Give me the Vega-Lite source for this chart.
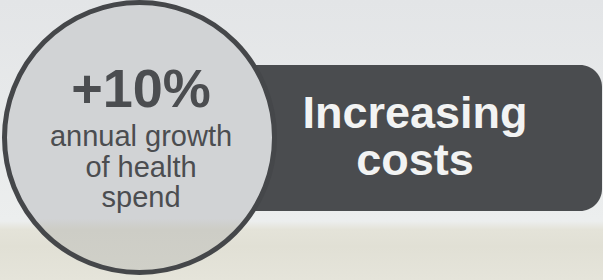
{
  "$schema": "https://vega.github.io/schema/vega-lite/v6.json",
  "width": 603,
  "height": 280,
  "autosize": {"type": "none"},
  "padding": 0,
  "background": "#e6e8e9",
  "config": {"view": {"stroke": null}},
  "layer": [
    {
      "data": {"values": [{"x": 0, "x2": 603, "y": 0, "y2": 280}]},
      "mark": {
        "type": "rect",
        "fill": {
          "gradient": "linear", "x1": 0, "y1": 0, "x2": 0, "y2": 1,
          "stops": [
            {"offset": 0, "color": "#e3e5e7"},
            {"offset": 0.79, "color": "#eceeee"},
            {"offset": 0.82, "color": "#e4e3d9"},
            {"offset": 0.88, "color": "#e1e0d5"},
            {"offset": 1, "color": "#e5e4da"}
          ]
        }
      },
      "encoding": {
        "x": {"field": "x", "type": "quantitative", "scale": {"domain": [0, 603], "nice": false, "zero": false}, "axis": null},
        "x2": {"field": "x2"},
        "y": {"field": "y", "type": "quantitative", "scale": {"domain": [0, 280], "nice": false, "zero": false, "reverse": true}, "axis": null},
        "y2": {"field": "y2"}
      }
    },
    {
      "data": {"values": [{"x": 200, "x2": 602, "y": 65, "y2": 211}]},
      "mark": {"type": "rect", "fill": "#4a4c4f", "cornerRadius": 22},
      "encoding": {
        "x": {"field": "x", "type": "quantitative", "axis": null},
        "x2": {"field": "x2"},
        "y": {"field": "y", "type": "quantitative", "axis": null},
        "y2": {"field": "y2"}
      }
    },
    {
      "data": {"values": [{"x": 139.5, "y": 137.5}]},
      "mark": {
        "type": "point", "shape": "circle", "filled": true, "size": 72900, "opacity": 1,
        "fill": {
          "gradient": "linear", "x1": 0, "y1": 0, "x2": 0, "y2": 1,
          "stops": [
            {"offset": 0, "color": "#d1d3d5"},
            {"offset": 0.8, "color": "#d1d3d5"},
            {"offset": 0.84, "color": "#cdcdc6"},
            {"offset": 1, "color": "#d0d0c8"}
          ]
        },
        "stroke": "#45474a", "strokeWidth": 5, "strokeOpacity": 1
      },
      "encoding": {
        "x": {"field": "x", "type": "quantitative", "axis": null},
        "y": {"field": "y", "type": "quantitative", "axis": null}
      }
    },
    {
      "data": {"values": [{"label": "+10%", "x": 141, "y": 107}]},
      "mark": {"type": "text", "font": "Liberation Sans", "fontWeight": "bold", "fontSize": 54, "color": "#4b4d50", "align": "center", "baseline": "alphabetic"},
      "encoding": {
        "x": {"field": "x", "type": "quantitative", "axis": null},
        "y": {"field": "y", "type": "quantitative", "axis": null},
        "text": {"field": "label"}
      }
    },
    {
      "data": {"values": [
        {"label": "annual growth", "x": 141, "y": 146},
        {"label": "of health", "x": 141, "y": 177},
        {"label": "spend", "x": 141, "y": 207}
      ]},
      "mark": {"type": "text", "font": "Liberation Sans", "fontSize": 29, "color": "#4b4d50", "align": "center", "baseline": "alphabetic"},
      "encoding": {
        "x": {"field": "x", "type": "quantitative", "axis": null},
        "y": {"field": "y", "type": "quantitative", "axis": null},
        "text": {"field": "label"}
      }
    },
    {
      "data": {"values": [
        {"label": "Increasing", "x": 415, "y": 128},
        {"label": "costs", "x": 415, "y": 175}
      ]},
      "mark": {"type": "text", "font": "Liberation Sans", "fontWeight": "bold", "fontSize": 45, "color": "#f2f3f3", "align": "center", "baseline": "alphabetic"},
      "encoding": {
        "x": {"field": "x", "type": "quantitative", "axis": null},
        "y": {"field": "y", "type": "quantitative", "axis": null},
        "text": {"field": "label"}
      }
    }
  ]
}
